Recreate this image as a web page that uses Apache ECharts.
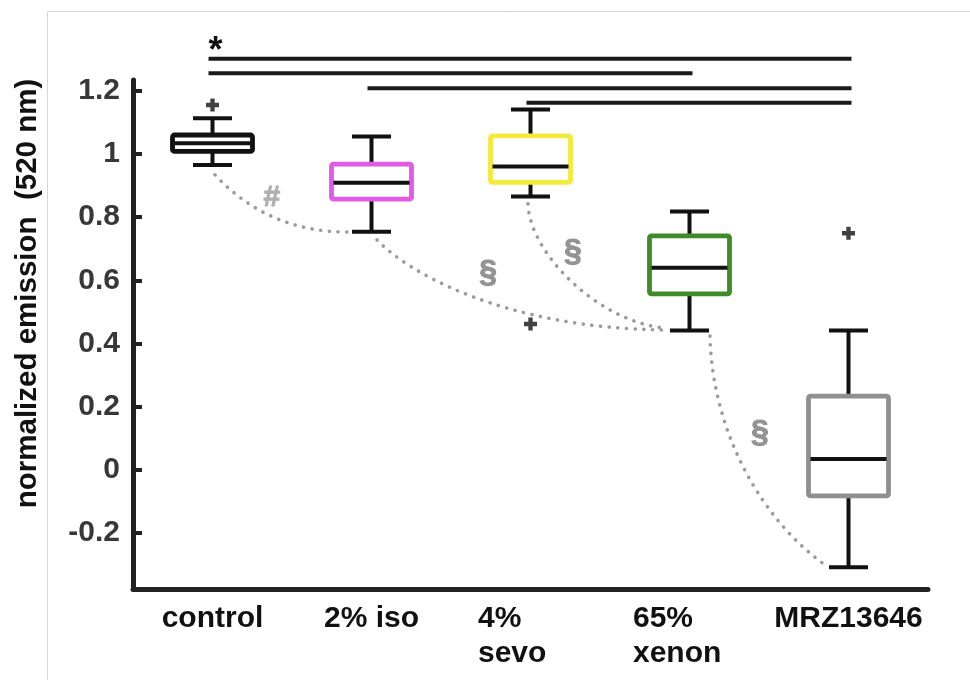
<!DOCTYPE html>
<html>
<head>
<meta charset="utf-8">
<script src="https://cdn.jsdelivr.net/npm/echarts@6/dist/echarts.min.js"></script>
<style>
html,body{margin:0;padding:0;background:#fff;}
#chart{width:970px;height:680px;}
</style>
</head>
<body>
<div id="chart"></div>
<script>
// ---- data ----
const categories = ['control', '2% iso', '4%\nsevo', '65%\nxenon', 'MRZ13646'];
const whiskerLow  = [0.965, 0.754, 0.865, 0.441, -0.308];
const q1          = [1.008, 0.857, 0.910, 0.557, -0.082];
const median      = [1.034, 0.909, 0.960, 0.640, 0.035];
const q3          = [1.060, 0.968, 1.057, 0.741, 0.234];
const whiskerHigh = [1.113, 1.055, 1.141, 0.818, 0.441];
const outliers = [[0, 1.155], [2, 0.462], [4, 0.749]];
const yTicks = [-0.2, 0, 0.2, 0.4, 0.6, 0.8, 1, 1.2];

// significance bars: from category, to category, height (axis units)
const sigFrom = [0, 0, 1, 2];
const sigTo   = [4, 3, 4, 4];
const sigY    = [1.301, 1.255, 1.208, 1.162];
const sigText = ['*', '', '', ''];

// dotted comparison curves (cubic bezier in axis units: start, ctrl1, ctrl2, end)
const curves = [
  [0.016, 0.934, 0.225, 0.820, 0.502, 0.753, 0.846, 0.753],
  [1.035, 0.728, 1.211, 0.633, 1.808, 0.449, 2.846, 0.443],
  [1.984, 0.842, 1.997, 0.680, 2.437, 0.468, 2.846, 0.449],
  [3.129, 0.424, 3.142, 0.127, 3.443, -0.158, 3.871, -0.307]
];
const curveText = ['#', '§', '§', '§'];
const curveTextPos = [[0.374, 0.861], [1.733, 0.623], [2.267, 0.690], [3.443, 0.117]];

// ---- styles ----
const boxColors = ['#111111', '#e05ae6', '#f3ea3c', '#3e8b27', '#8f8f8f'];
const FONT = '"Liberation Sans", Arial, Helvetica, sans-serif';
const INK = '#111111';

const boxData = categories.map((c, i) => [i, whiskerLow[i], q1[i], median[i], q3[i], whiskerHigh[i]]);
const sigData = sigFrom.map((f, i) => [f, sigTo[i], sigY[i]]);
const curveData = curves.map((c, i) => [i, c[1], c[3], c[5], c[7]]);

// position at a fractional category index (category axis coords round to whole bands)
function toPx(api, idx, val) {
  const base = api.coord([0, val]);
  const band = api.size([1, 0], [0, 0])[0];
  return [base[0] + idx * band, base[1]];
}

function renderBox(params, api) {
  const i = api.value(0);
  const lo = api.coord([i, api.value(1)]);
  const a = api.coord([i, api.value(2)]);
  const m = api.coord([i, api.value(3)]);
  const b = api.coord([i, api.value(4)]);
  const hi = api.coord([i, api.value(5)]);
  const cx = lo[0];
  const bw = 80, cw = 39, lw = 4;
  const col = boxColors[params.dataIndex];
  return {
    type: 'group',
    children: [
      {type: 'line', shape: {x1: cx, y1: b[1], x2: cx, y2: hi[1]}, style: {stroke: INK, lineWidth: lw}},
      {type: 'line', shape: {x1: cx, y1: a[1], x2: cx, y2: lo[1]}, style: {stroke: INK, lineWidth: lw}},
      {type: 'line', shape: {x1: cx - cw / 2, y1: hi[1], x2: cx + cw / 2, y2: hi[1]}, style: {stroke: INK, lineWidth: lw}},
      {type: 'line', shape: {x1: cx - cw / 2, y1: lo[1], x2: cx + cw / 2, y2: lo[1]}, style: {stroke: INK, lineWidth: lw}},
      {type: 'rect', shape: {x: cx - bw / 2, y: b[1], width: bw, height: a[1] - b[1], r: 2},
        style: {fill: '#ffffff', stroke: col, lineWidth: 4.8}},
      {type: 'line', shape: {x1: cx - bw / 2 + 2, y1: m[1], x2: cx + bw / 2 - 2, y2: m[1]}, style: {stroke: INK, lineWidth: lw}}
    ]
  };
}

function renderSig(params, api) {
  const p0 = api.coord([api.value(0), api.value(2)]);
  const p1 = api.coord([api.value(1), api.value(2)]);
  const children = [
    {type: 'line', shape: {x1: p0[0] - 4, y1: p0[1], x2: p1[0] + 3, y2: p1[1]}, style: {stroke: '#1a1a1a', lineWidth: 4}}
  ];
  const t = sigText[params.dataIndex];
  if (t) {
    children.push({type: 'text', style: {text: t, x: p0[0] + 3, y: p0[1] + 11, fill: INK,
      font: 'bold 36px ' + FONT, align: 'center', verticalAlign: 'bottom'}});
  }
  return {type: 'group', children};
}

function renderCurve(params, api) {
  const k = params.dataIndex;
  const c = curves[k];
  const s = toPx(api, c[0], api.value(1));
  const c1 = toPx(api, c[2], api.value(2));
  const c2 = toPx(api, c[4], api.value(3));
  const e = toPx(api, c[6], api.value(4));
  const tp = curveTextPos[k];
  const lp = toPx(api, tp[0], tp[1]);
  const isHash = curveText[k] === '#';
  return {
    type: 'group',
    children: [
      {type: 'bezierCurve', shape: {x1: s[0], y1: s[1], cpx1: c1[0], cpy1: c1[1], cpx2: c2[0], cpy2: c2[1], x2: e[0], y2: e[1]},
        style: {stroke: '#9b9b9b', fill: null, lineWidth: 3.6, lineDash: [0.1, 8.6], lineCap: 'round'}},
      {type: 'text', style: {text: curveText[k], x: lp[0], y: lp[1],
        fill: isHash ? '#b0b0b0' : '#939393', font: 'bold ' + (isHash ? 30 : 32) + 'px ' + FONT,
        align: 'center', verticalAlign: 'middle', stroke: isHash ? '#b0b0b0' : '#939393', lineWidth: 1}}
    ]
  };
}

const labelBase = {fontSize: 30, fontWeight: 'bold', color: INK, fontFamily: FONT, lineHeight: 35};
const labelWidths = {2: 105, 3: 113};

const chart = echarts.init(document.getElementById('chart'), null, {renderer: 'canvas'});
chart.setOption({
  backgroundColor: '#ffffff',
  animation: false,
  graphic: [
    {type: 'line', shape: {x1: 47.5, y1: 11.5, x2: 47.5, y2: 680}, style: {stroke: '#d6d6d6', lineWidth: 1}, silent: true},
    {type: 'line', shape: {x1: 47.5, y1: 11.5, x2: 970, y2: 11.5}, style: {stroke: '#d6d6d6', lineWidth: 1}, silent: true}
  ],
  grid: {left: 133, top: 80, width: 795, height: 509, containLabel: false},
  xAxis: {
    type: 'category',
    data: categories,
    boundaryGap: true,
    axisLine: {onZero: false, lineStyle: {color: '#222', width: 5}},
    axisTick: {inside: true, length: 9, alignWithLabel: true, lineStyle: {color: '#222', width: 4}},
    axisLabel: {
      interval: 0,
      margin: 12,
      formatter: function (v, idx) {
        const key = labelWidths[idx] ? 'w' + idx : 'c';
        return v.split('\n').map(s => '{' + key + '|' + s + '}').join('\n');
      },
      rich: {
        c: Object.assign({}, labelBase),
        w2: Object.assign({}, labelBase, {width: labelWidths[2], align: 'left'}),
        w3: Object.assign({}, labelBase, {width: labelWidths[3], align: 'left'})
      }
    },
    splitLine: {show: false}
  },
  yAxis: {
    type: 'value',
    min: -0.3766,
    max: 1.234,
    name: 'normalized emission  (520 nm)',
    nameLocation: 'middle',
    nameGap: 90,
    nameRotate: 90,
    nameTextStyle: {fontSize: 29.5, fontWeight: 'bold', color: INK, fontFamily: FONT, padding: [0, 0, 0, 82]},
    axisLine: {show: true, onZero: false, lineStyle: {color: '#222', width: 5}},
    axisTick: {show: true, inside: true, length: 9, customValues: yTicks, lineStyle: {color: '#222', width: 4}},
    axisLabel: {
      customValues: yTicks,
      margin: 13,
      fontSize: 30, fontWeight: 'bold', color: '#383838', fontFamily: FONT,
      formatter: v => String(Math.round(v * 10) / 10)
    },
    splitLine: {show: false}
  },
  series: [
    {type: 'custom', name: 'curves', renderItem: renderCurve, data: curveData,
      encode: {x: 0, y: [1, 2, 3, 4]}, clip: false, silent: true, z: 1},
    {type: 'custom', name: 'boxes', renderItem: renderBox, data: boxData,
      encode: {x: 0, y: [1, 2, 3, 4, 5]}, clip: false, z: 3},
    {type: 'scatter', name: 'outliers', data: outliers,
      symbol: 'path://M4,0H8V4H12V8H8V12H4V8H0V4H4Z', symbolSize: 13,
      itemStyle: {color: INK}, z: 4, silent: true},
    {type: 'custom', name: 'significance', renderItem: renderSig, data: sigData,
      encode: {x: [0, 1], y: 2}, clip: false, silent: true, z: 5}
  ]
});
</script>
</body>
</html>
